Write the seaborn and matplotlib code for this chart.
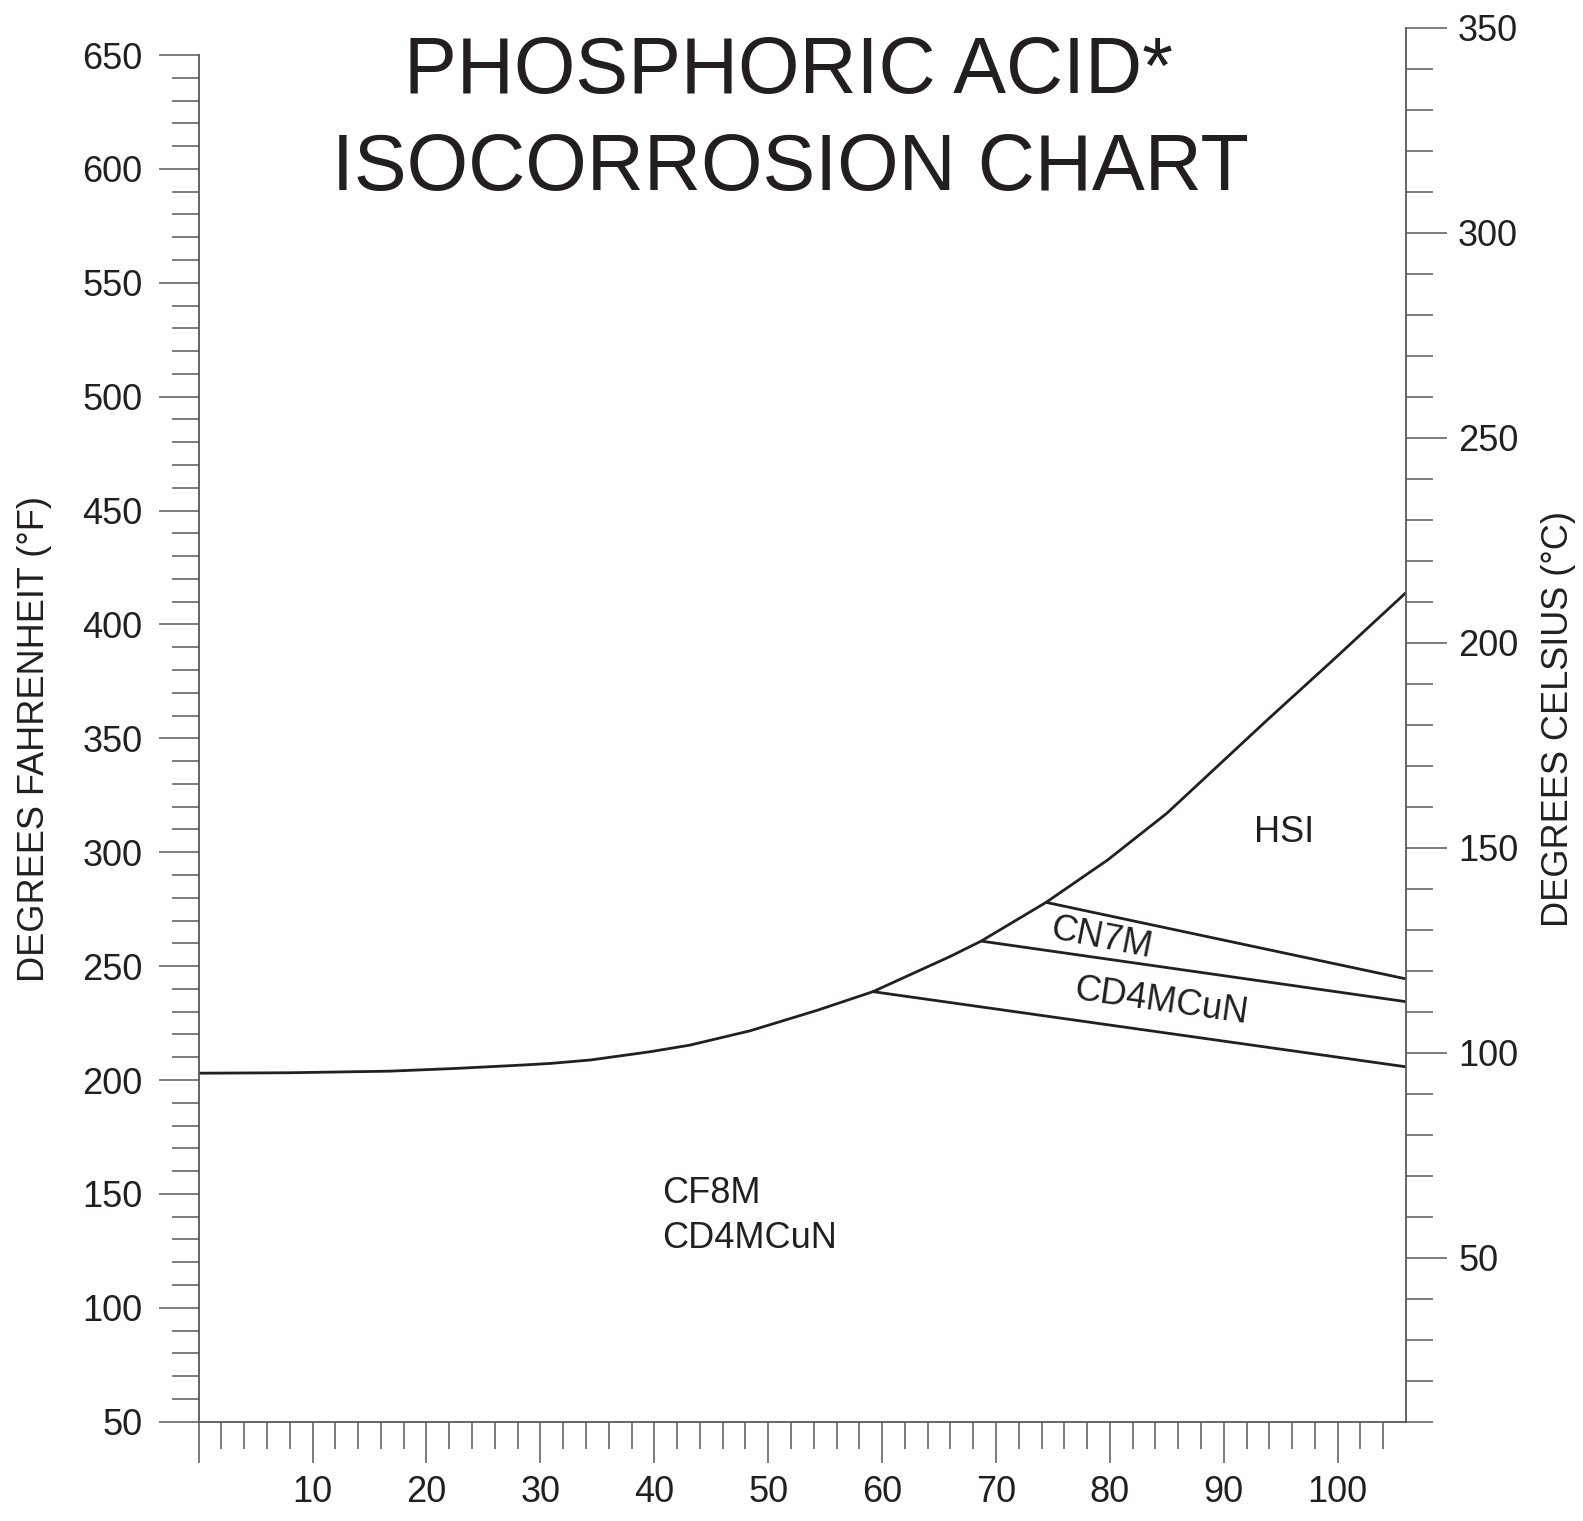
import numpy as np
import pandas as pd
import matplotlib
matplotlib.use("Agg")
import matplotlib.pyplot as plt
from matplotlib.ticker import FixedLocator, FuncFormatter
import seaborn as sns

# ---------------- data ----------------
# acid concentration (%) vs temperature (deg F)
curve_conc = [0, 8.0, 16.8, 22.6, 28.5, 30.9, 34.4, 39.6, 43.1, 48.4, 54.3, 59.2,
              66.0, 68.7, 74.4, 79.8, 85.0, 93.8, 99.6, 106.0]
curve_temp = [203.0, 203.2, 203.9, 205.1, 206.6, 207.3, 208.8, 212.4, 215.3, 221.6,
              230.6, 238.8, 254.3, 261.0, 278.0, 296.6, 317.1, 358.0, 384.4, 414.0]

cn7m_conc = [74.4, 106.0]
cn7m_temp = [278.0, 244.4]
cd4_upper_conc = [68.7, 106.0]
cd4_upper_temp = [261.0, 234.4]
cd4_lower_conc = [59.2, 106.0]
cd4_lower_temp = [238.8, 205.8]

x_major = [0, 10, 20, 30, 40, 50, 60, 70, 80, 90, 100]
x_minor = [v for v in range(2, 105, 2) if v % 10 != 0]
f_major = list(range(50, 651, 50))
f_minor = list(range(50, 651, 10))
c_major = list(range(50, 351, 50))
c_minor = list(range(10, 351, 10))

title_lines = ["PHOSPHORIC ACID*", "ISOCORROSION CHART"]
ylabel_left = "DEGREES FAHRENHEIT (°F)"
ylabel_right = "DEGREES CELSIUS (°C)"

# ---------------- style ----------------
sns.set_style("ticks")
plt.rcParams["font.family"] = ["Liberation Sans", "DejaVu Sans"]
INK = "#231f20"
AXC = "#58595b"
FS = 26

fig = plt.figure(figsize=(15.83, 15.21), dpi=100)
fig.patch.set_facecolor("white")
ax = fig.add_axes([198.7 / 1583, 99.3 / 1521, 1207.3 / 1583, 1394.0 / 1521])
ax.set_facecolor("white")

def draw(xs, ys):
    df = pd.DataFrame({"conc": xs, "temp": ys})
    sns.lineplot(data=df, x="conc", y="temp", ax=ax, color=INK, linewidth=2.0,
                 estimator=None, sort=False, legend=False)

draw(curve_conc, curve_temp)
draw(cn7m_conc, cn7m_temp)
draw(cd4_upper_conc, cd4_upper_temp)
draw(cd4_lower_conc, cd4_lower_temp)

ax.set_xlim(0, 106)
ax.set_ylim(50, 662)
ax.set_xlabel("")
ax.set_ylabel("")

# spines
for s in ["top", "right"]:
    ax.spines[s].set_visible(False)
for s in ["left", "bottom"]:
    ax.spines[s].set_color(AXC)
    ax.spines[s].set_linewidth(1.3)
ax.spines["left"].set_bounds(50, 650)

# x ticks
ax.xaxis.set_major_locator(FixedLocator(x_major))
ax.xaxis.set_minor_locator(FixedLocator(x_minor))
ax.xaxis.set_major_formatter(FuncFormatter(lambda v, p: "" if v == 0 else f"{int(v)}"))
ax.tick_params(axis="x", which="major", direction="out", length=29.5, width=1.1,
               color=AXC, labelsize=FS, labelcolor=INK, pad=9)
ax.tick_params(axis="x", which="minor", direction="out", length=19.5, width=1.1, color=AXC)

# left y ticks
ax.yaxis.set_major_locator(FixedLocator(f_major))
ax.yaxis.set_minor_locator(FixedLocator(f_minor))
ax.tick_params(axis="y", which="major", direction="out", length=29, width=1.1,
               color=AXC, labelsize=FS, labelcolor=INK, pad=11.5)
ax.tick_params(axis="y", which="minor", direction="out", length=19.5, width=1.1, color=AXC)

# right axis in Celsius
ax2 = ax.twinx()
ax2.set_ylim(10, 350)
for s in ["top", "left", "bottom"]:
    ax2.spines[s].set_visible(False)
ax2.spines["right"].set_color(AXC)
ax2.spines["right"].set_linewidth(1.3)
ax2.yaxis.set_major_locator(FixedLocator(c_major))
ax2.yaxis.set_minor_locator(FixedLocator(c_minor))
ax2.tick_params(axis="y", which="major", direction="out", length=29.5, width=1.1,
                color=AXC, labelsize=FS, labelcolor=INK, pad=8)
ax2.tick_params(axis="y", which="minor", direction="out", length=19.5, width=1.1, color=AXC)

# region labels
ax.text(95.3, 308.8, "HSI", fontsize=FS, color=INK, ha="center", va="center")
ax.text(79.2, 262.0, "CN7M", fontsize=FS, color=INK, ha="center", va="center",
        rotation=-11, rotation_mode="anchor")
ax.text(84.5, 234.3, "CD4MCuN", fontsize=FS, color=INK, ha="center", va="center",
        rotation=-8, rotation_mode="anchor")
ax.text(40.7, 150.3, "CF8M", fontsize=FS, color=INK, ha="left", va="center")
ax.text(40.7, 130.4, "CD4MCuN", fontsize=FS, color=INK, ha="left", va="center")

# title
fig.text(788 / 1583, 1 - 93.3 / 1521, title_lines[0], fontsize=57, color=INK,
         ha="center", va="baseline")
fig.text(790 / 1583, 1 - 190.0 / 1521, title_lines[1], fontsize=57, color=INK,
         ha="center", va="baseline")

# axis labels
fig.text(35 / 1583, 1 - 738.5 / 1521, ylabel_left, fontsize=FS, color=INK,
         rotation=90, ha="center", va="center")
fig.text(1559 / 1583, 1 - 718.5 / 1521, ylabel_right, fontsize=FS, color=INK,
         rotation=90, ha="center", va="center")

fig.savefig("out.png", dpi=100, facecolor="white")
